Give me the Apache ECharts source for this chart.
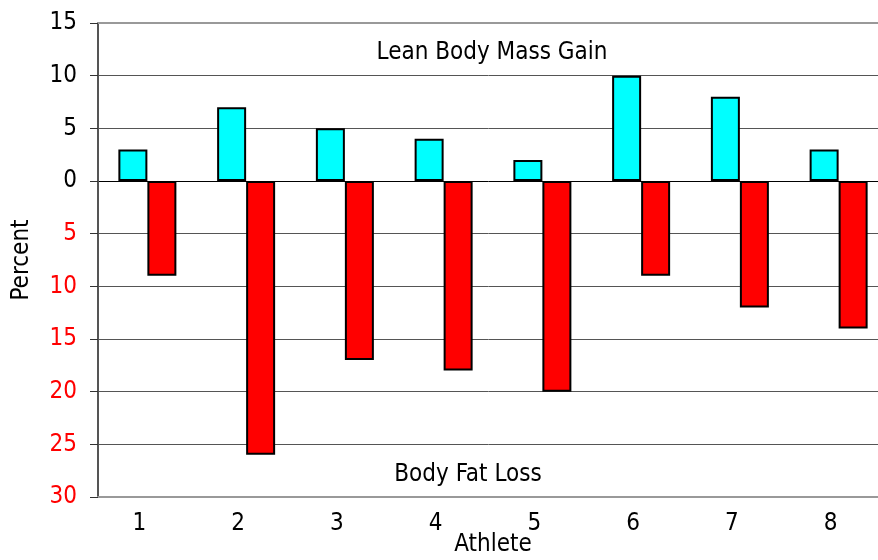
<!DOCTYPE html>
<html>
<head>
<meta charset="utf-8">
<script src="https://cdn.jsdelivr.net/npm/echarts@6/dist/echarts.min.js"></script>
<style>
  html, body { margin: 0; padding: 0; background: #fff; }
  #chart { width: 878px; height: 560px; }
</style>
</head>
<body>
<div id="chart"></div>
<script>
// Per-athlete body composition change, in percent
const athletes = ['1', '2', '3', '4', '5', '6', '7', '8'];
const leanMassGain = [3, 7, 5, 4, 2, 10, 8, 3];
const fatLoss = [-9, -26, -17, -18, -20, -9, -12, -14];
const yTicks = { min: -30, max: 15, step: 5 };

const FONT = 'DejaVu Sans Condensed';
const FS = 24;

const chart = echarts.init(document.getElementById('chart'));

const barStyle = (color) => ({
  color: color,
  borderColor: '#000',
  borderWidth: 2
});

chart.setOption({
  animation: false,
  textStyle: { fontFamily: FONT },
  title: [
    {
      text: 'Lean Body Mass Gain',
      left: 487, top: 36, textAlign: 'center',
      textStyle: { fontFamily: FONT, fontSize: FS, fontWeight: 'normal', color: '#000' }
    },
    {
      text: 'Body Fat Loss',
      left: 463, top: 458, textAlign: 'center',
      textStyle: { fontFamily: FONT, fontSize: FS, fontWeight: 'normal', color: '#000' }
    }
  ],
  grid: {
    left: 98, right: -10, top: 23, bottom: 63,
    containLabel: false,
    outerBoundsMode: 'none'
  },
  xAxis: [
    {
      type: 'category',
      data: athletes,
      axisLine: { show: true, onZero: false, lineStyle: { color: '#999', width: 2 } },
      axisTick: { show: false },
      axisLabel: {
        color: '#000', fontSize: FS, fontFamily: FONT, margin: 15,
        padding: [0, 16, 0, 0]
      },
      name: 'Athlete',
      nameLocation: 'middle',
      nameGap: 36,
      nameMoveOverlap: false,
      nameTextStyle: { color: '#000', fontSize: FS, fontFamily: FONT }
    },
    {
      type: 'category',
      data: athletes,
      position: 'top',
      axisLine: { show: true, onZero: false, lineStyle: { color: '#999', width: 2 } },
      axisTick: { show: false },
      axisLabel: { show: false }
    }
  ],
  yAxis: {
    type: 'value',
    min: yTicks.min,
    max: yTicks.max,
    interval: yTicks.step,
    axisLine: { show: true, lineStyle: { color: '#555', width: 2 } },
    axisTick: { show: true, length: 8, lineStyle: { color: '#333', width: 1 } },
    splitLine: {
      show: true,
      lineStyle: {
        color: ['#999', '#555', '#555', '#555', '#555', '#555', '#000', '#555', '#555', '#999'],
        width: 1
      }
    },
    axisLabel: {
      fontSize: FS, fontFamily: FONT, margin: 21,
      formatter: (v) => (v < 0 ? '{neg|' + Math.abs(v) + '}' : '{pos|' + v + '}'),
      rich: {
        neg: { color: '#ff0000', fontSize: FS, fontFamily: FONT },
        pos: { color: '#000', fontSize: FS, fontFamily: FONT }
      }
    },
    name: 'Percent',
    nameLocation: 'middle',
    nameGap: 64,
    nameMoveOverlap: false,
    nameTextStyle: { color: '#000', fontSize: FS, fontFamily: FONT }
  },
  series: [
    {
      name: 'Lean Body Mass Gain',
      type: 'bar',
      data: leanMassGain,
      barWidth: 29,
      barGap: '0%',
      itemStyle: barStyle('#00ffff')
    },
    {
      name: 'Body Fat Loss',
      type: 'bar',
      data: fatLoss,
      barWidth: 29,
      barGap: '0%',
      itemStyle: barStyle('#ff0000')
    }
  ]
});
</script>
</body>
</html>
